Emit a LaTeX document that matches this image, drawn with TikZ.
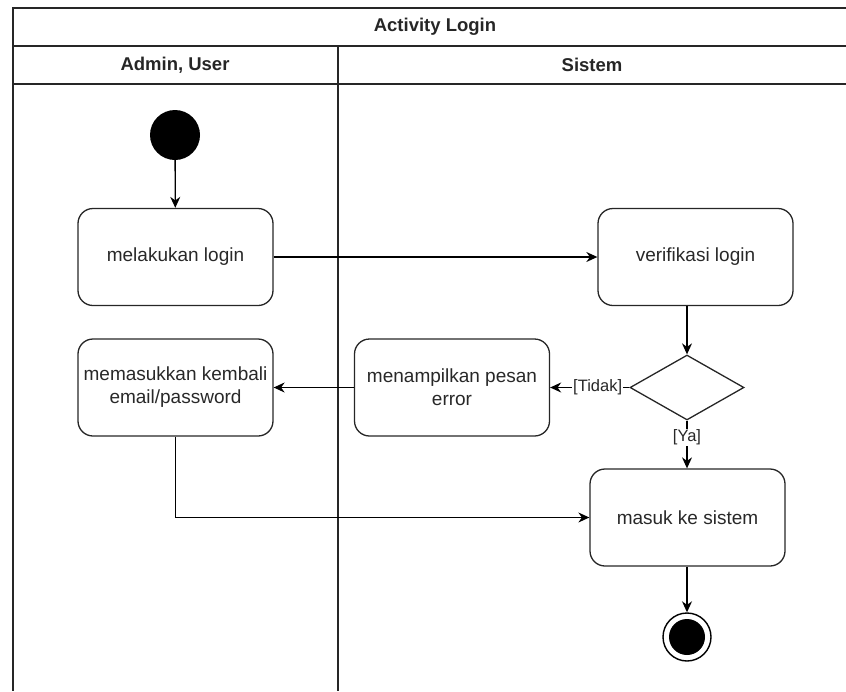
\documentclass[tikz,border=0pt]{standalone}
\usepackage{fontspec}
\setmainfont{Liberation Sans}
\usetikzlibrary{arrows.meta,shapes.geometric}
\definecolor{txt}{RGB}{40,40,40}
\begin{document}
\begin{tikzpicture}[x=1pt,y=-1pt,
  lane/.style={line width=1.6pt,draw=black!85},
  act/.style={draw=black!85,line width=1.3pt,rounded corners=15pt,minimum width=195pt,
    minimum height=97pt,align=center,text=txt,font=\fontsize{19}{23}\selectfont,inner sep=0pt},
  flow/.style={line width=1.3pt,-{Stealth[length=11pt,width=10pt]}},
  guard/.style={fill=white,inner sep=1pt,text=txt,font=\fontsize{16.5}{19}\selectfont},
  head/.style={font=\bfseries\fontsize{18.5}{22}\selectfont,text=black!85}]
\useasboundingbox (0,0) rectangle (846,691);
% swimlane frame
\draw[lane] (846,8) -- (13,8) -- (13,691);
\draw[lane] (13,46) -- (846,46);
\draw[lane] (13,84) -- (846,84);
\draw[lane] (338,46) -- (338,691);
\node[head] (title) at (435,27) {Activity Login};
\node[head] (laneA) at (175,65) {Admin, User};
\node[head] (laneS) at (592,65) {Sistem};
% nodes
\node[circle,fill=black,minimum size=50pt,inner sep=0pt] (start) at (175,135) {};
\node[act] (login) at (175.5,257) {melakukan login};
\node[act] (verif) at (695.5,257) {verifikasi login};
\node[diamond,draw=black!85,line width=1.3pt,minimum width=114pt,minimum height=65pt,
  inner sep=0pt,aspect=1.75] (dec) at (687,387.5) {};
\node[act] (err) at (452,387.5) {menampilkan pesan\\error};
\node[act] (retry) at (175.5,387.5) {memasukkan kembali\\email/password};
\node[act] (masuk) at (687.5,517.5) {masuk ke sistem};
\node[circle,draw=black,line width=1.4pt,minimum size=48pt,inner sep=0pt] (stop) at (687,637) {};
\node[circle,fill=black,minimum size=36pt,inner sep=0pt] (stopin) at (stop.center) {};
% connectors
\draw[flow] (start) -- (login);
\draw[flow] (login) -- (verif);
\draw[flow] (verif.south -| dec.north) -- (dec.north);
\draw[flow] (dec.west) -- node[guard,pos=0.4] (tidak) {[Tidak]} (err.east);
\draw[flow] (err.west) -- (retry.east);
\draw[flow] (dec.south) -- node[guard,pos=0.35] (ya) {[Ya]} (masuk.north -| dec.south);
\draw[flow] (retry.south) |- (masuk.west);
\draw[flow] (masuk.south -| stop.north) -- (stop.north);
\end{tikzpicture}
\end{document}
